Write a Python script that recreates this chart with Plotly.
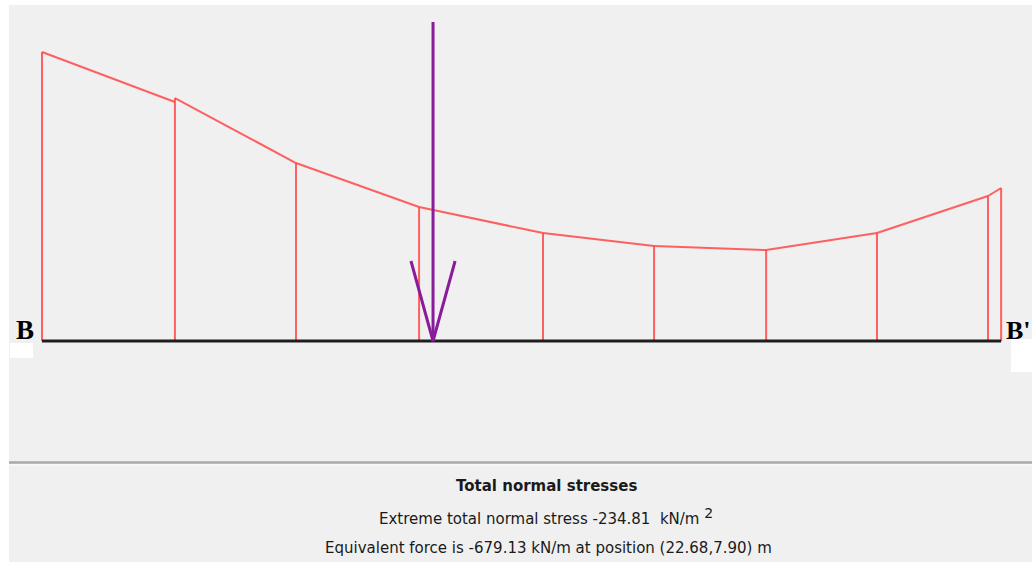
import plotly.graph_objects as go

# ---- data ----
# slice boundary positions along the slip surface (m)
slice_x = [0.0, 7.71, 14.73, 21.87, 29.06, 35.50, 42.00, 48.43, 54.87, 55.63]
# total normal stress at left side of each boundary (kN/m2)
stress_left = [-234.81, -194.2, -144.6, -108.9, -87.7, -77.2, -73.9, -87.7, -117.8, -124.3]
# total normal stress at right side of each boundary (kN/m2)
stress_right = [-234.81, -197.4, -144.6, -108.9, -87.7, -77.2, -73.9, -87.7, -117.8, -124.3]

extreme_stress = -234.81
equiv_force = -679.13
force_pos_x = 22.68
force_pos_y = 7.90

title_text = "Total normal stresses"
line2_text = "Extreme total normal stress -234.81  kN/m <sup><span style='font-size:14px'>2</span></sup>"
line3_text = "Equivalent force is -679.13 kN/m at position (22.68,7.90) m"

# ---- figure geometry ----
W, H = 1032, 562
ML, MT = 9, 5
x_range = [-1.914, 57.42]
y_range = [179.56, -273.0]   # reversed: compressive stress drawn upward

RED = "rgba(255,70,70,0.85)"
PURPLE = "#8a1c9c"

fig = go.Figure()

# stress outline (top), piecewise per slice
ox, oy = [], []
for i in range(len(slice_x) - 1):
    ox += [slice_x[i], slice_x[i + 1], None]
    oy += [stress_right[i], stress_left[i + 1], None]
fig.add_trace(go.Scatter(x=ox, y=oy, mode="lines",
                         line=dict(color=RED, width=2), hoverinfo="skip"))

# vertical lines at slice boundaries
vx, vy = [], []
for i, xv in enumerate(slice_x):
    top = min(stress_left[i], stress_right[i])
    vx += [xv, xv, None]
    vy += [0, top, None]
fig.add_trace(go.Scatter(x=vx, y=vy, mode="lines",
                         line=dict(color=RED, width=2), hoverinfo="skip"))

# baseline (slip surface) B - B'
fig.add_trace(go.Scatter(x=[slice_x[0], slice_x[-1]], y=[0, 0], mode="lines",
                         line=dict(color="#1e1e1e", width=3), hoverinfo="skip"))

# equivalent force arrow
arrow_scale = 0.3817          # stress units per kN/m of force
shaft_top = equiv_force * arrow_scale
head_len = 65.0
head_half = 1.28
fig.add_trace(go.Scatter(x=[force_pos_x, force_pos_x], y=[shaft_top, 0], mode="lines",
                         line=dict(color=PURPLE, width=3), hoverinfo="skip"))
fig.add_trace(go.Scatter(x=[force_pos_x - head_half, force_pos_x, force_pos_x + head_half],
                         y=[-head_len, 0, -head_len], mode="lines",
                         line=dict(color=PURPLE, width=3), hoverinfo="skip"))


def px_x(p):
    return (p - ML) / (W - ML)


def px_y(p):
    return 1 - (p - MT) / (H - MT)


shapes = [
    # separator between drawing and info panel
    dict(type="line", xref="paper", yref="paper", x0=0, x1=1, y0=px_y(462.5), y1=px_y(462.5),
         line=dict(color="#a9a9a9", width=2.5)),
    dict(type="line", xref="paper", yref="paper", x0=0, x1=1, y0=px_y(465), y1=px_y(465),
         line=dict(color="#fafafa", width=1.5)),
    # white patches under labels
    dict(type="rect", xref="paper", yref="paper", x0=px_x(10), x1=px_x(33),
         y0=px_y(358), y1=px_y(343), line=dict(width=0), fillcolor="white"),
    dict(type="rect", xref="paper", yref="paper", x0=px_x(1011), x1=px_x(1032),
         y0=px_y(372), y1=px_y(339), line=dict(width=0), fillcolor="white"),
]

annotations = [
    dict(x=slice_x[0], y=0, xref="x", yref="y", text="<b>B</b>", showarrow=False,
         xanchor="right", yanchor="bottom", xshift=-6, yshift=-6,
         font=dict(family="Liberation Serif", size=27, color="black")),
    dict(x=slice_x[-1], y=0, xref="x", yref="y", text="<b>B'</b>", showarrow=False,
         xanchor="left", yanchor="bottom", xshift=3, yshift=-6,
         font=dict(family="Liberation Serif", size=26, color="black")),
    dict(x=px_x(546), y=px_y(486), xref="paper", yref="paper", text="<b>" + title_text + "</b>",
         showarrow=False, xanchor="center", yanchor="middle",
         font=dict(family="DejaVu Sans", size=15, color="#1a1a1a")),
    dict(x=px_x(546), y=px_y(516), xref="paper", yref="paper", text=line2_text,
         showarrow=False, xanchor="center", yanchor="middle",
         font=dict(family="DejaVu Sans", size=15, color="#1a1a1a")),
    dict(x=px_x(548), y=px_y(548), xref="paper", yref="paper", text=line3_text,
         showarrow=False, xanchor="center", yanchor="middle",
         font=dict(family="DejaVu Sans", size=15, color="#1a1a1a")),
]

fig.update_layout(
    width=W, height=H,
    margin=dict(l=ML, r=0, t=MT, b=0, pad=0),
    paper_bgcolor="white",
    plot_bgcolor="#f0f0f0",
    showlegend=False,
    xaxis=dict(range=x_range, visible=False, fixedrange=True),
    yaxis=dict(range=y_range, visible=False, fixedrange=True),
    shapes=shapes,
    annotations=annotations,
)

fig.write_html("out.html", config={"displayModeBar": False},
               post_script="document.body.style.margin='0';document.body.style.overflow='hidden';")
